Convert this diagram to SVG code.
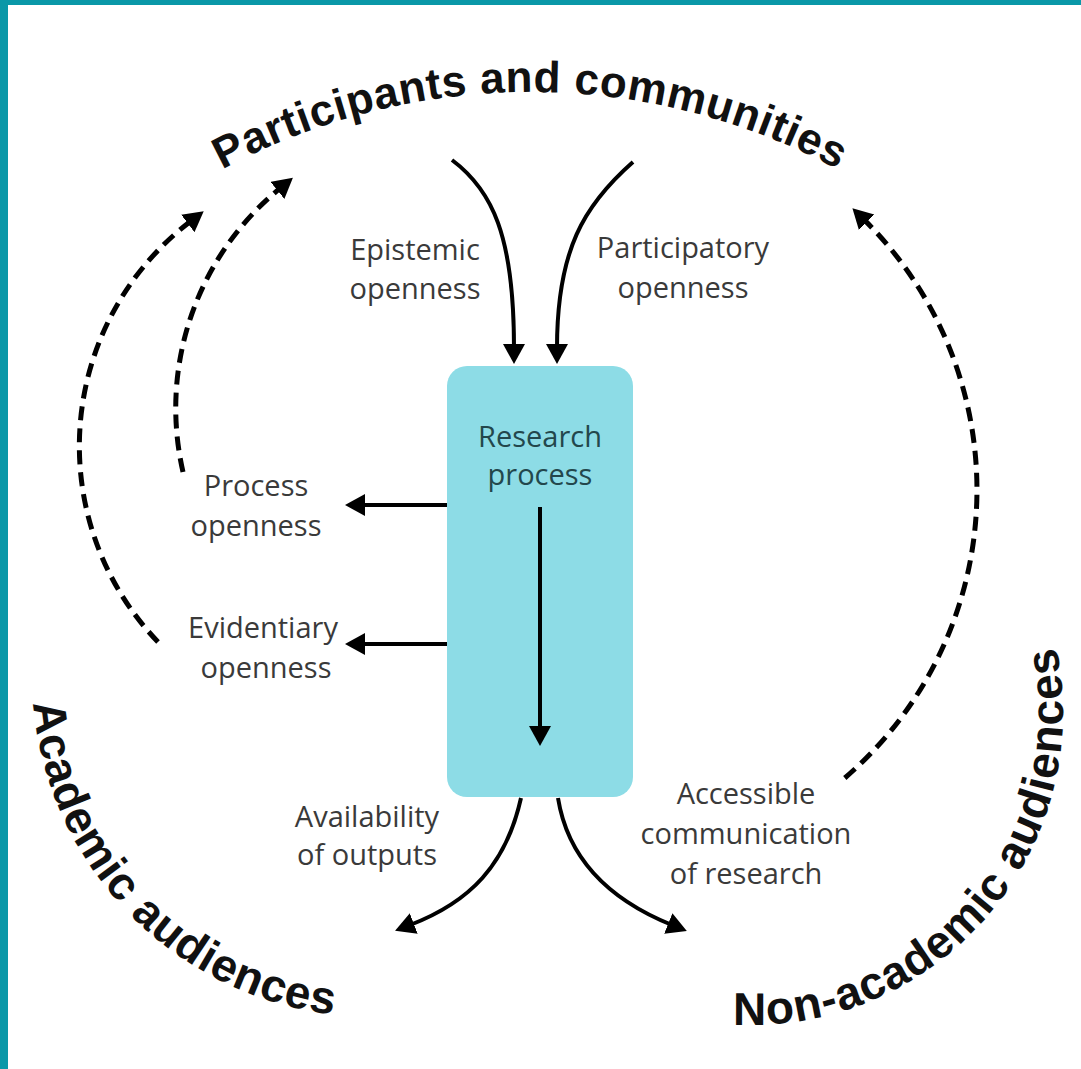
<svg xmlns="http://www.w3.org/2000/svg" width="1081" height="1069" viewBox="0 0 1081 1069">
  <defs>
    <style>
      .lbl { font-family: "Open Sans", "Liberation Sans", sans-serif; font-size: 29px; fill: #3a3a3a; text-anchor: middle; }
      .box-lbl { font-family: "Open Sans", "Liberation Sans", sans-serif; font-size: 29px; fill: #23474c; text-anchor: middle; }
      .ring { font-family: "Liberation Sans", Arial, sans-serif; font-weight: bold; fill: #111; }
      .flow { fill: none; stroke: #000; stroke-width: 4; marker-end: url(#head); }
      .loop { fill: none; stroke: #000; stroke-width: 5; stroke-dasharray: 14 8; marker-end: url(#head); }
    </style>
    <marker id="head" markerUnits="userSpaceOnUse" markerWidth="24" markerHeight="24" refX="4" refY="11" orient="auto">
      <path d="M0,0 L20,11 L0,22 z" fill="#000"/>
    </marker>
    <!-- baselines for the curved audience labels -->
    <path id="arcTop" d="M112.2,244.1 A650,650 0 0 1 947.8,244.1"/>
    <path id="arcLeft" d="M33.3,645.2 A342,342 0 0 0 403.8,1015.7"/>
    <path id="arcRight" d="M679.6,1017 A313,313 0 0 0 1040.2,594.7"/>
  </defs>

  <rect width="1081" height="1069" fill="#fff"/>
  <!-- frame edges -->
  <rect x="0" y="0" width="1081" height="5" fill="#0a98a8"/>
  <rect x="0" y="0" width="8" height="1069" fill="#0a98a8"/>

  <g id="participants">
    <text class="ring" font-size="44"><textPath href="#arcTop" startOffset="50%" text-anchor="middle" textLength="641" lengthAdjust="spacing">Participants and communities</textPath></text>
  </g>
  <g id="academic">
    <text class="ring" font-size="46"><textPath href="#arcLeft" startOffset="58" textLength="468" lengthAdjust="spacing">Academic audiences</textPath></text>
  </g>
  <g id="nonacademic">
    <text class="ring" font-size="46"><textPath href="#arcRight" startOffset="54" textLength="574" lengthAdjust="spacing">Non-academic audiences</textPath></text>
  </g>

  <g id="research">
    <rect x="447" y="366" width="186" height="431" rx="20" fill="#8ddce6"/>
    <text class="box-lbl" x="540" y="447">Research</text>
    <text class="box-lbl" x="540" y="485">process</text>
  </g>

  <g id="epistemic"><text class="lbl" x="415" y="260">Epistemic</text><text class="lbl" x="415" y="299">openness</text></g>
  <g id="participatory"><text class="lbl" x="683" y="258">Participatory</text><text class="lbl" x="683" y="298">openness</text></g>
  <g id="process"><text class="lbl" x="256" y="496">Process</text><text class="lbl" x="256" y="536">openness</text></g>
  <g id="evidentiary"><text class="lbl" x="263" y="638">Evidentiary</text><text class="lbl" x="266" y="678">openness</text></g>
  <g id="availability"><text class="lbl" x="367" y="827">Availability</text><text class="lbl" x="367" y="865">of outputs</text></g>
  <g id="accessible"><text class="lbl" x="746" y="804">Accessible</text><text class="lbl" x="746" y="844">communication</text><text class="lbl" x="746" y="884">of research</text></g>

  <g id="connectors">
    <path class="flow" d="M452,160 C492,190 514,235 514,348"/>
    <path class="flow" d="M633,162 C584,205 557,250 557,348"/>
    <path class="flow" d="M540,507 L540,730"/>
    <path class="flow" d="M447,505 L361,505"/>
    <path class="flow" d="M447,644 L361,644"/>
    <path class="flow" d="M521,798 C506,865 470,902 410,925"/>
    <path class="flow" d="M558,798 C568,860 610,900 672,925"/>
    <path class="loop" d="M158,642 A283,283 0 0 1 191,221"/>
    <path class="loop" d="M183,472 A284,284 0 0 1 280.5,187.9"/>
    <path class="loop" d="M844.8,778 A380,380 0 0 0 863.8,219.4"/>
  </g>
</svg>
